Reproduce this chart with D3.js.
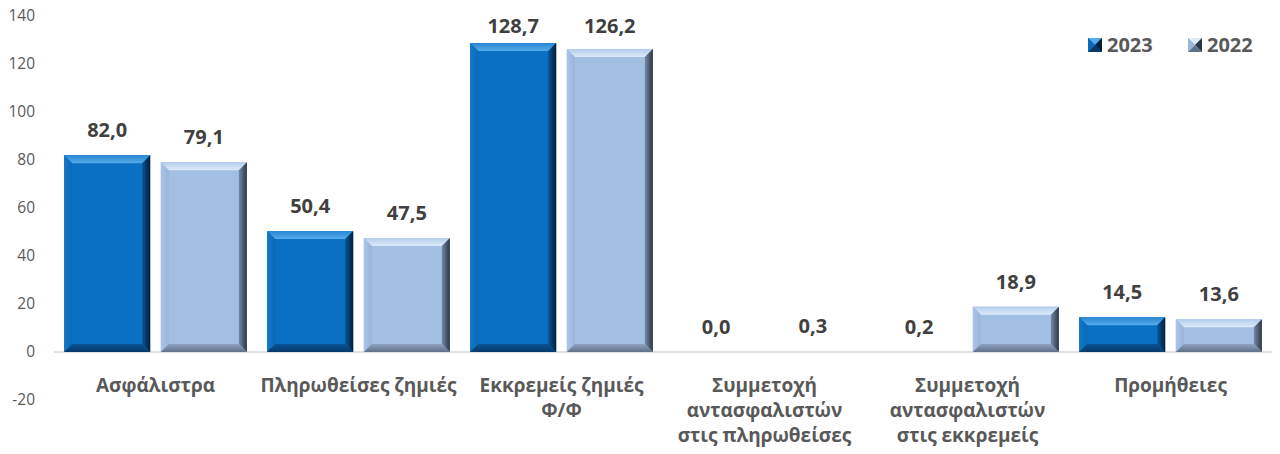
<!DOCTYPE html>
<html><head><meta charset="utf-8">
<script src="https://cdn.jsdelivr.net/npm/d3@7"></script>
<style>body{margin:0;background:#fff}svg{display:block}</style>
</head><body>
<script>
const categories = ["Ασφάλιστρα","Πληρωθείσες ζημιές","Εκκρεμείς ζημιές\nΦ/Φ","Συμμετοχή\nαντασφαλιστών\nστις πληρωθείσες","Συμμετοχή\nαντασφαλιστών\nστις εκκρεμείς","Προμήθειες"];
const series = ["2023","2022"];
const values2023 = [82.0,50.4,128.7,0.0,0.2,14.5];
const values2022 = [79.1,47.5,126.2,0.3,18.9,13.6];
const yTicks = [-20,0,20,40,60,80,100,120,140];

const W=1280,H=454;
const font = "'Open Sans', 'DejaVu Sans', sans-serif";
const svg = d3.select("body").append("svg").attr("width",W).attr("height",H);
const defs = svg.append("defs");

const y = d3.scaleLinear().domain([-20,140]).range([400,16]);
const x0 = d3.scaleBand().domain(categories).range([54,1272]).paddingInner(0.1).paddingOuter(0.05);
const x1 = d3.scaleBand().domain(series).range([0,x0.bandwidth()]).paddingInner(0.11);

const palette = {
  "2023":{main:"#0A70C4",top:["#2A86D3","#55ACEA"],left:["#1279C9","#0C69B8"],right:["#0A5599","#041E38"],bottom:["#0A5496","#06396A"]},
  "2022":{main:"#A3BEE3",top:["#B4CCEC","#DDEBFA"],left:["#ABC4E7","#9AB4DA"],right:["#7689A6","#2C3646"],bottom:["#8DA1C0","#61718A"]}
};
function grad(id,c,x1_,y1_,x2_,y2_){
  const g=defs.append("linearGradient").attr("id",id).attr("x1",x1_).attr("y1",y1_).attr("x2",x2_).attr("y2",y2_);
  g.append("stop").attr("offset","0%").attr("stop-color",c[0]);
  g.append("stop").attr("offset","100%").attr("stop-color",c[1]);
}
series.forEach(s=>{
  const c=palette[s];
  grad("top"+s,c.top,0,0,0,1);
  grad("left"+s,c.left,0,0,1,0);
  grad("right"+s,c.right,0,0,1,0);
  grad("bottom"+s,c.bottom,0,0,0,1);
});

// y axis labels
const yAxis = d3.axisLeft(y).tickValues(yTicks).tickSize(0).tickPadding(0).tickFormat(d=>d);
const ga = svg.append("g").attr("transform","translate(35,0)").call(yAxis);
ga.select(".domain").remove();
ga.selectAll("text").attr("font-family",font).attr("font-size",15.5).attr("fill","#595959");

// zero line
svg.append("line").attr("x1",54).attr("x2",1272).attr("y1",y(0)).attr("y2",y(0)).attr("stroke","#D9D9D9").attr("stroke-width",1.5);

function bevelBar(g,x,yTop,w,h,s){
  if(h<1){return;}
  const c=palette[s];
  const b=Math.min(8,h/2), yb=yTop+h;
  g.append("rect").attr("x",x).attr("y",yTop).attr("width",w).attr("height",h).attr("fill",c.main);
  const poly=(pts,fill)=>g.append("polygon").attr("points",pts.map(p=>p.join(",")).join(" ")).attr("fill",fill);
  poly([[x,yTop],[x+w,yTop],[x+w-b,yTop+b],[x+b,yTop+b]],`url(#top${s})`);
  poly([[x,yTop],[x+b,yTop+b],[x+b,yb-b],[x,yb]],`url(#left${s})`);
  poly([[x+w,yTop],[x+w,yb],[x+w-b,yb-b],[x+w-b,yTop+b]],`url(#right${s})`);
  poly([[x,yb],[x+b,yb-b],[x+w-b,yb-b],[x+w,yb]],`url(#bottom${s})`);
}

const data = categories.map((c,i)=>({cat:c,vals:[{s:"2023",v:values2023[i]},{s:"2022",v:values2022[i]}]}));
const groups = svg.append("g").selectAll("g").data(data).join("g").attr("transform",d=>`translate(${x0(d.cat)},0)`);
groups.each(function(d){
  const g=d3.select(this);
  d.vals.forEach(o=>{
    const xx=x1(o.s), top=y(Math.max(o.v,0)), h=Math.abs(y(o.v)-y(0));
    bevelBar(g,xx,top,x1.bandwidth(),h,o.s);
    g.append("text").attr("x",xx+x1.bandwidth()/2).attr("y",Math.max(top-18,33))
      .attr("text-anchor","middle").attr("font-family",font).attr("font-weight","bold")
      .attr("font-size",20).attr("fill","#404040")
      .text(d3.format(".1f")(o.v).replace(".",","));
  });
});

// category labels
categories.forEach(c=>{
  const lines=c.split("\n");
  const cx=x0(c)+x0.bandwidth()/2;
  const t=svg.append("text").attr("x",cx).attr("y",392)
    .attr("text-anchor","middle").attr("font-family",font).attr("font-weight","bold")
    .attr("font-size",19).attr("fill","#595959");
  lines.forEach((l,i)=>t.append("tspan").attr("x",cx).attr("dy",i?25:0).text(l));
});

// legend
const legX=[1088,1188];
series.forEach((s,i)=>{
  const g=svg.append("g");
  const c=palette[s], lx=legX[i], ly=38, sz=14;
  g.append("rect").attr("x",lx).attr("y",ly).attr("width",sz).attr("height",sz).attr("fill",c.main);
  const poly=(pts,fill)=>g.append("polygon").attr("points",pts.map(p=>p.join(",")).join(" ")).attr("fill",fill);
  const m=[lx+sz/2,ly+sz/2];
  poly([[lx,ly],[lx+sz,ly],m],c.top[1]);
  poly([[lx+sz,ly],[lx+sz,ly+sz],m],c.right[1]);
  poly([[lx,ly+sz],[lx+sz,ly+sz],m],c.bottom[1]);
  poly([[lx,ly],[lx,ly+sz],m],c.left[1]);
  g.append("text").attr("x",lx+sz+5).attr("y",ly+sz/2).attr("dy","0.36em")
    .attr("font-family",font).attr("font-weight","bold").attr("font-size",20).attr("fill","#595959").text(s);
});
</script>
</body></html>
